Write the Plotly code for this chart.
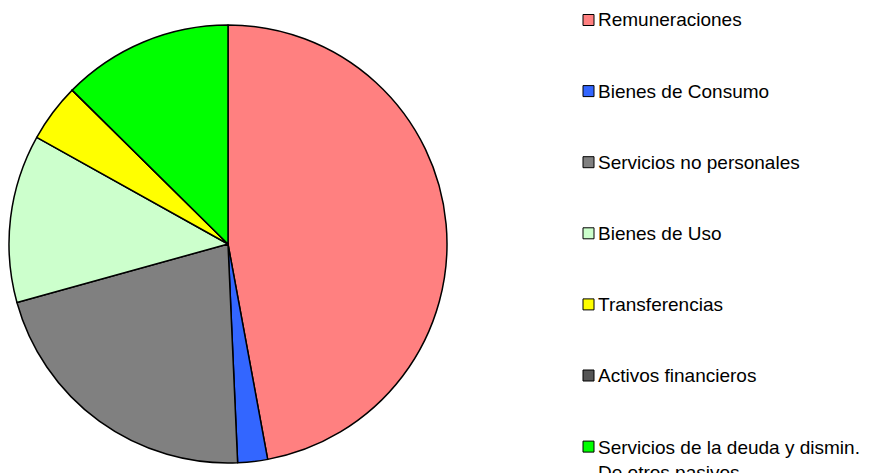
import plotly.graph_objects as go

# ---- data (percent shares) ----
categories = [
    "Remuneraciones",
    "Bienes de Consumo",
    "Servicios no personales",
    "Bienes de Uso",
    "Transferencias",
    "Activos financieros",
    "Servicios de la deuda y dismin.<br>De otros pasivos",
]
values = [47.1, 2.2, 21.4, 12.4, 4.3, 0.0, 12.6]
colors = ["#FF8080", "#3366FF", "#808080", "#CCFFCC", "#FFFF00", "#555555", "#00FF00"]

W, H = 872, 473
cx, cy, r = 220, 236, 219

fig = go.Figure()
fig.add_trace(go.Pie(
    labels=categories,
    values=values,
    sort=False,
    direction="clockwise",
    rotation=0,
    textinfo="none",
    hoverinfo="label+percent",
    showlegend=False,
    marker=dict(colors=colors, line=dict(color="#000000", width=1.5)),
    domain=dict(x=[(cx - r) / W, (cx + r) / W],
                y=[(H - cy - r) / H, (H - cy + r) / H]),
))

# ---- manual legend ----
shapes = []
annotations = []
leg_x0 = 575
sq = 11
y0 = 12
step = 71.1
font = dict(family="Arial, Liberation Sans, sans-serif", size=19, color="#000000")
for i, (lab, col) in enumerate(zip(categories, colors)):
    yc = y0 + i * step
    shapes.append(dict(
        type="rect", xref="paper", yref="paper",
        x0=leg_x0 / W, x1=(leg_x0 + sq) / W,
        y0=1 - (yc - sq / 2) / H, y1=1 - (yc + sq / 2) / H,
        fillcolor=col, line=dict(color="#000000", width=1),
    ))
    if "<br>" in lab:
        annotations.append(dict(
            x=(leg_x0 + sq + 2) / W, y=1 - (yc - 12) / H,
            xref="paper", yref="paper", xanchor="left", yanchor="top",
            text=lab, showarrow=False, align="left", font=font,
        ))
    else:
        annotations.append(dict(
            x=(leg_x0 + sq + 2) / W, y=1 - yc / H,
            xref="paper", yref="paper", xanchor="left", yanchor="middle",
            text=lab, showarrow=False, align="left", font=font,
        ))

fig.update_layout(
    width=W, height=H,
    margin=dict(l=0, r=0, t=0, b=0),
    paper_bgcolor="#FFFFFF",
    plot_bgcolor="#FFFFFF",
    shapes=shapes,
    annotations=annotations,
)

fig.write_html("out.html")
